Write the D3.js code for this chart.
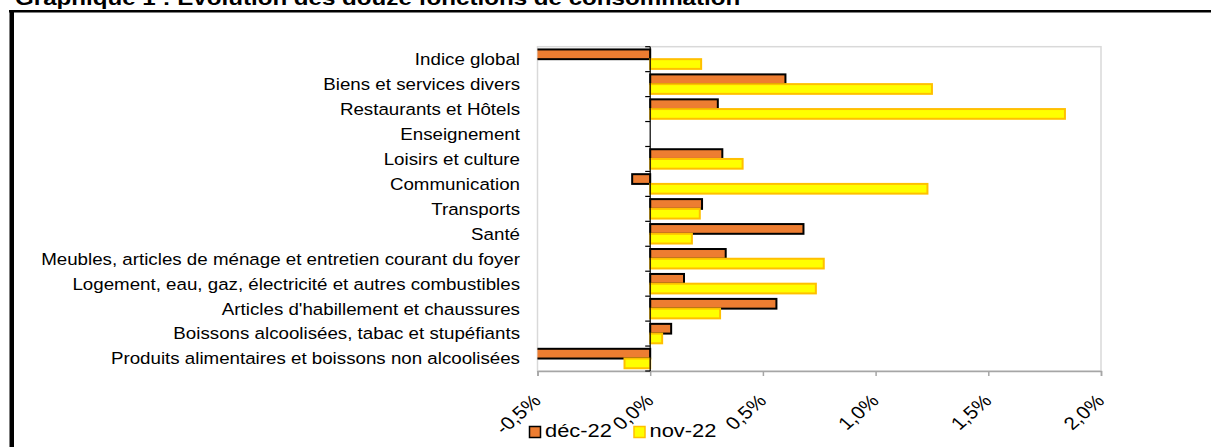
<!DOCTYPE html>
<html>
<head>
<meta charset="utf-8">
<script src="https://cdn.jsdelivr.net/npm/d3@7"></script>
<style>
  html, body { margin: 0; padding: 0; background: #fff; }
  svg { display: block; }
  text { font-family: "Liberation Sans", Arial, Helvetica, sans-serif; fill: #000; }
</style>
</head>
<body>
<svg id="chart" width="1211" height="447"></svg>
<script>
// ---- data ----
const title = "Graphique 1 : Evolution des douze fonctions de consommation";
const categories = [
  "Indice global",
  "Biens et services divers",
  "Restaurants et Hôtels",
  "Enseignement",
  "Loisirs et culture",
  "Communication",
  "Transports",
  "Santé",
  "Meubles, articles de ménage et entretien courant du foyer",
  "Logement, eau, gaz, électricité et autres combustibles",
  "Articles d'habillement et chaussures",
  "Boissons alcoolisées, tabac et stupéfiants",
  "Produits alimentaires et boissons non alcoolisées"
];
const seriesNames = ["déc-22", "nov-22"];
const dec22 = [-0.55, 0.60, 0.30, 0, 0.32, -0.08, 0.23, 0.68, 0.335, 0.15, 0.56, 0.093, -0.55];
const nov22 = [0.226, 1.25, 1.84, 0, 0.41, 1.23, 0.22, 0.185, 0.77, 0.735, 0.31, 0.053, -0.114];
const tickValues = [-0.5, 0, 0.5, 1.0, 1.5, 2.0];
const tickLabels = ["-0,5%", "0,0%", "0,5%", "1,0%", "1,5%", "2,0%"];

// ---- layout ----
const SX = 1.15; // horizontal text stretch of the reference
const plot = { left: 537.5, right: 1101, top: 46.7, bottom: 371 };
const colors = { "déc-22": "#ED7D31", "nov-22": "#FFFF00" };
const strokes = { "déc-22": "#000000", "nov-22": "#FFC000" };

const svg = d3.select("#chart");

// frame
svg.append("rect").attr("x", 9).attr("y", 10).attr("width", 1202).attr("height", 2.5).attr("fill", "#000");
svg.append("rect").attr("x", 9.5).attr("y", 10).attr("width", 4.5).attr("height", 437).attr("fill", "#000");

// title
svg.append("text")
  .attr("transform", `translate(15,5) scale(${SX},1)`)
  .attr("font-size", 21).attr("font-weight", "bold")
  .text(title);

const x = d3.scaleLinear().domain([-0.5, 2.0]).range([plot.left, plot.right]);
const y = d3.scaleBand().domain(categories).range([plot.top, plot.bottom]).paddingInner(0.22).paddingOuter(0.11);
const ySub = d3.scaleBand().domain(seriesNames).range([0, y.bandwidth()]).padding(0);

// plot area border
svg.append("rect")
  .attr("x", plot.left).attr("y", plot.top)
  .attr("width", plot.right - plot.left).attr("height", plot.bottom - plot.top)
  .attr("fill", "none").attr("stroke", "#d9d9d9").attr("stroke-width", 1.5);

// clip
svg.append("clipPath").attr("id", "clip").append("rect")
  .attr("x", plot.left).attr("y", plot.top)
  .attr("width", plot.right - plot.left).attr("height", plot.bottom - plot.top);

// bars
const rows = categories.map((c, i) => ({ cat: c, vals: [
  { s: "déc-22", v: dec22[i] }, { s: "nov-22", v: nov22[i] }] }));
const gBars = svg.append("g").attr("clip-path", "url(#clip)");
rows.forEach(r => {
  r.vals.filter(d => d.v !== 0).forEach(d => {
    gBars.append("rect")
      .attr("x", Math.min(x(0), x(d.v)))
      .attr("y", y(r.cat) + ySub(d.s))
      .attr("width", Math.abs(x(d.v) - x(0)))
      .attr("height", ySub.bandwidth())
      .attr("fill", colors[d.s])
      .attr("stroke", strokes[d.s])
      .attr("stroke-width", 2);
  });
});

// bottom axis
const xAxis = d3.axisBottom(x).tickValues(tickValues).tickSize(5).tickFormat((d, i) => tickLabels[i]);
const gx = svg.append("g").attr("transform", `translate(0,${plot.bottom})`).call(xAxis);
gx.select(".domain").attr("stroke", "#a6a6a6").attr("stroke-width", 1.5);
gx.selectAll(".tick line").attr("stroke", "#a6a6a6").attr("stroke-width", 1.5);
gx.selectAll(".tick text")
  .attr("font-family", "Liberation Sans, Arial, sans-serif")
  .attr("font-size", 18)
  .attr("fill", "#000")
  .attr("text-anchor", "end")
  .attr("y", 0).attr("dy", 0)
  .attr("transform", `translate(4,31) scale(${SX},1) rotate(-45)`);

// zero axis (vertical) with category boundary ticks
const boundaries = categories.map(c => y(c) - y.step() * y.paddingInner() / 2).concat([plot.bottom]);
const gy = svg.append("g");
gy.append("line").attr("x1", x(0)).attr("x2", x(0)).attr("y1", plot.top).attr("y2", plot.bottom)
  .attr("stroke", "#000").attr("stroke-width", 1.2);
gy.selectAll("line.bt").data(boundaries).enter().append("line")
  .attr("class", "bt")
  .attr("x1", x(0) - 5).attr("x2", x(0))
  .attr("y1", d => d).attr("y2", d => d)
  .attr("stroke", "#000").attr("stroke-width", 1.2);

// category labels
svg.append("g").selectAll("text").data(categories).enter().append("text")
  .attr("transform", d => `translate(520,${y(d) + y.bandwidth() / 2}) scale(${SX},1)`)
  .attr("text-anchor", "end")
  .attr("dy", "0.36em")
  .attr("font-size", 16.3)
  .text(d => d);

// legend
const legendX = [529.5, 634];
const lg = svg.append("g");
seriesNames.forEach((s, i) => {
  lg.append("rect").attr("x", legendX[i]).attr("y", 426.5).attr("width", 11).attr("height", 11)
    .attr("fill", colors[s]).attr("stroke", strokes[s]).attr("stroke-width", 1.5);
  lg.append("text")
    .attr("transform", `translate(${legendX[i] + 15.5},437) scale(${SX},1)`)
    .attr("font-size", 19)
    .text(s);
});
</script>
</body>
</html>
